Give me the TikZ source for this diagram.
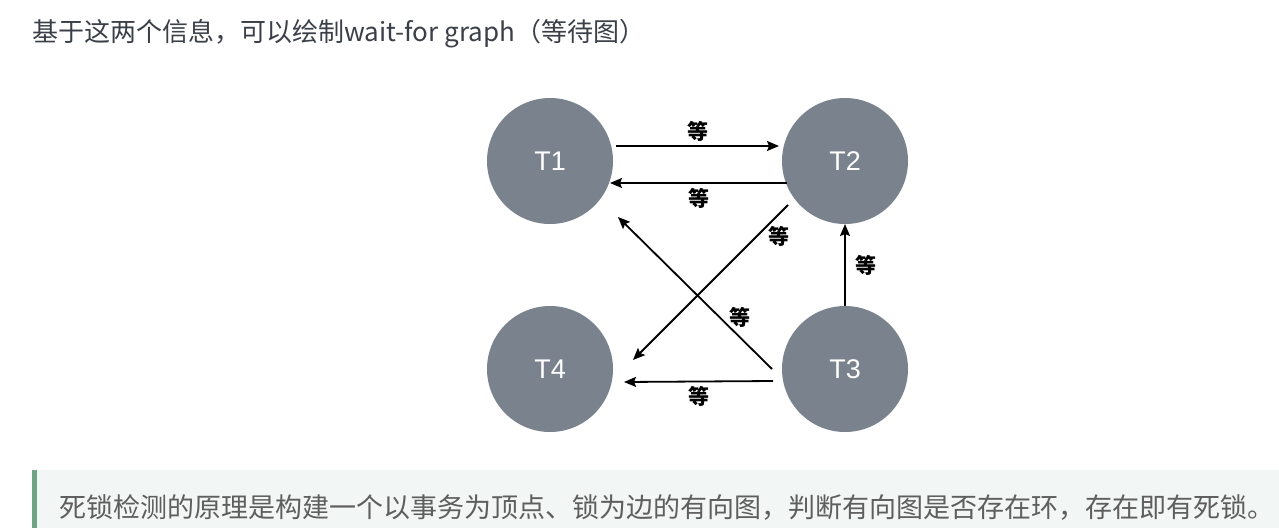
\documentclass[tikz,border=0pt]{standalone}
\usepackage{fontspec}
\setmainfont{Noto Sans CJK SC}
\newfontfamily\tfont{Liberation Sans}
\usepackage{xcolor}
\usetikzlibrary{arrows.meta,positioning}
\definecolor{ink}{HTML}{3B4048}
\definecolor{nodegrey}{HTML}{7A838D}
\definecolor{quoteink}{HTML}{5E5E5E}
\definecolor{quotefill}{HTML}{F2F6F4}
\definecolor{quotebar}{HTML}{6FA584}
\tikzset{
  tnode/.style={circle, fill=nodegrey, minimum size=126pt, inner sep=0pt, outer sep=0pt, text=white, font=\tfont\fontsize{27pt}{30pt}\selectfont},
  warrow/.style={-{Stealth[length=12pt, width=10pt, inset=2pt]}, line width=1.8pt, black},
  wlabel/.style={font=\fontsize{21pt}{24pt}\selectfont\bfseries, text=black, inner sep=2pt},
  headtext/.style={font=\fontsize{26pt}{30pt}\selectfont, text=ink, anchor=west, inner sep=0pt},
  quotetext/.style={font=\fontsize{27pt}{30pt}\selectfont, text=quoteink, anchor=west, inner sep=0pt},
}
\begin{document}
\begin{tikzpicture}[x=1pt, y=-1pt]
  \useasboundingbox (0,0) rectangle (1279,528);
  \node[headtext] (head) at (32,34) {基于这两个信息，可以绘制wait-for graph（等待图）};
  % the four transactions
  \node[tnode] (t1) at (550,161) {T1};
  \node[tnode, right=169pt of t1] (t2) {T2};
  \node[tnode, below=82pt of t1] (t4) {T4};
  \node[tnode, below=82pt of t2] (t3) {T3};
  % wait-for edges
  \draw[warrow] ([shift={(66,-15)}]t1.center) -- node[wlabel, above=2pt]{等} ([shift={(-66,-15)}]t2.center);
  \draw[warrow] ([shift={(-58,22)}]t2.center) -- node[wlabel, below=2pt]{等} ([shift={(60,22)}]t1.center);
  \draw[warrow] ([shift={(-57,44)}]t2.center) -- node[wlabel, pos=0.2, right=9pt]{等} ([shift={(83,-9)}]t4.center);
  \draw[warrow] ([shift={(-73,0)}]t3.center) -- node[wlabel, pos=0.34, right=7pt]{等} ([shift={(68,56)}]t1.center);
  \draw[warrow] (t3.north) -- node[wlabel, right=8pt]{等} (t2.south);
  \draw[warrow] ([shift={(-72,12)}]t3.center) -- node[wlabel, below=2pt]{等} ([shift={(74,13)}]t4.center);
  % quote block
  \fill[quotefill] (32,470) rectangle (1279,528);
  \fill[quotebar] (32,470) rectangle (37,528);
  \node[quotetext] (note) at (59,507) {死锁检测的原理是构建一个以事务为顶点、锁为边的有向图，判断有向图是否存在环，存在即有死锁。};
\end{tikzpicture}
\end{document}
